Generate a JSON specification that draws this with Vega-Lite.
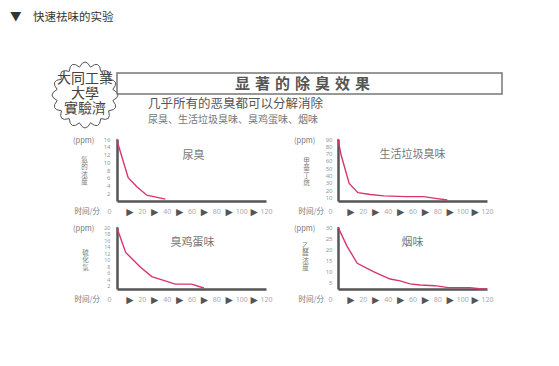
{
  "$schema": "https://vega.github.io/schema/vega-lite/v6.json",
  "background": "white",
  "padding": {"left": 10, "top": 11, "right": 5, "bottom": 5},
  "title": {"text": "▼\u2003快速祛味的实验", "anchor": "start", "dx": -40, "offset": 37, "fontSize": 11.5, "fontWeight": "normal", "color": "#333", "font": "Noto Sans CJK SC"},
  "spacing": 0,
  "bounds": "flush",
  "hconcat": [
    {
      "width": 64, "height": 44,
      "data": {"values": [{"b": "大同工業\n大學\n實驗濟"}]},
      "layer": [
        {"mark": {"type": "point", "shape": "M 0.8435 -0.1678 Q 1.1565 0 0.8435 0.1678 Q 1.0685 0.4426 0.7151 0.4778 Q 0.8178 0.8178 0.4778 0.7151 Q 0.4426 1.0685 0.1678 0.8435 Q 0 1.1565 -0.1678 0.8435 Q -0.4426 1.0685 -0.4778 0.7151 Q -0.8178 0.8178 -0.7151 0.4778 Q -1.0685 0.4426 -0.8435 0.1678 Q -1.1565 0 -0.8435 -0.1678 Q -1.0685 -0.4426 -0.7151 -0.4778 Q -0.8178 -0.8178 -0.4778 -0.7151 Q -0.4426 -1.0685 -0.1678 -0.8435 Q 0 -1.1565 0.1678 -0.8435 Q 0.4426 -1.0685 0.4778 -0.7151 Q 0.8178 -0.8178 0.7151 -0.4778 Q 1.0685 -0.4426 0.8435 -0.1678 Z", "size": 4356, "filled": true, "fill": "white", "stroke": "#555", "strokeWidth": 1, "opacity": 1}, "encoding": {}},
        {"mark": {"type": "text", "fontSize": 14, "lineHeight": 15, "lineBreak": "\n", "color": "#444", "baseline": "middle", "dy": -16, "font": "Noto Sans CJK TC"}, "encoding": {"text": {"field": "b"}}}
      ]
    },
    {
      "spacing": 45,
      "bounds": "flush",
      "vconcat": [
        {
          "width": 385, "height": 21,
          "view": {"stroke": "#777", "strokeWidth": 1.5},
          "title": {"text": "几乎所有的恶臭都可以分解消除", "subtitle": "尿臭、生活垃圾臭味、臭鸡蛋味、烟味", "orient": "bottom", "anchor": "start", "dx": 31, "offset": 4, "fontSize": 12.5, "fontWeight": "normal", "color": "#555", "subtitleFontSize": 10, "subtitleColor": "#777", "subtitlePadding": 4, "subtitleFont": "Noto Sans CJK SC"},
          "data": {"values": [{"h": "显\u2004著\u2004的\u2004除\u2004臭\u2004效\u2004果"}]},
          "mark": {"type": "text", "fontSize": 15, "fontWeight": "bold", "color": "#555", "dx": -7, "baseline": "middle"},
          "encoding": {"text": {"field": "h"}}
        },
        {
          "columns": 2,
          "spacing": {"row": 26, "column": 72},
          "bounds": "flush",
          "concat": [
            {
              "width": 149, "height": 62,
              "title": {"text": "(ppm)", "anchor": "start", "frame": "group", "dx": -44, "offset": -8, "fontSize": 7.5, "fontWeight": "normal", "color": "#777"},
              "layer": [
                {
                  "data": {"values": [{"t":0,"v":16},{"t":1,"v":14.5},{"t":9,"v":6},{"t":16,"v":3.7},{"t":24,"v":1.5},{"t":39,"v":0.5}]},
                  "mark": {"type": "line", "color": "#d9346f", "strokeWidth": 1.4},
                  "encoding": {
                    "x": {"field": "t", "type": "quantitative", "scale": {"domain": [0, 120], "nice": false, "zero": false},
                      "axis": {"values": [0,10,20,30,40,50,60,70,80,90,100,110,120], "labelExpr": "datum.value % 20 == 10 ? '►' : datum.label", "labelFontSize": {"condition": {"test": "datum.value % 20 == 10", "value": 12}, "value": 7}, "labelColor": {"condition": {"test": "datum.value % 20 == 10", "value": "#555"}, "value": "#aaa"}, "labelFont": {"condition": {"test": "datum.value % 20 == 10", "value": "Noto Sans CJK SC"}, "value": "Noto Sans"}, "labelOffset": {"condition": {"test": "datum.value == 0", "value": -8}, "value": 0}, "labelBaseline": "middle", "labelPadding": 10, "labelFlush": false, "labelOverlap": false, "labelBound": false, "title": "时间/分", "titleAngle": 0, "titleAlign": "left", "titleBaseline": "middle", "titleX": -43, "titleY": 10}},
                    "y": {"field": "v", "type": "quantitative", "scale": {"domain": [0, 16], "nice": false, "zero": false},
                      "axis": {"values": [2,4,6,8,10,12,14,16], "title": ["氨","的","浓","度"], "titleAngle": 0, "titleAlign": "center", "titleBaseline": "middle", "titleX": -33, "titleY": 20, "titleLineHeight": 7.5, "titleFontSize": 6.5, "labelPadding": 7, "labelOverlap": false}}
                  }
                },
                {
                  "data": {"values": [{"label": "尿臭"}]},
                  "mark": {"type": "text", "fontSize": 11, "color": "#777", "baseline": "middle", "dx": 2, "dy": -14},
                  "encoding": {"text": {"field": "label"}}
                }
              ]
            },
            {
              "width": 149, "height": 62,
              "title": {"text": "(ppm)", "anchor": "start", "frame": "group", "dx": -44, "offset": -8, "fontSize": 7.5, "fontWeight": "normal", "color": "#777"},
              "layer": [
                {
                  "data": {"values": [{"t":0,"v":90},{"t":2.5,"v":68},{"t":9,"v":29},{"t":16,"v":16.5},{"t":26,"v":14},{"t":37,"v":12},{"t":55,"v":11},{"t":69,"v":11},{"t":77,"v":9},{"t":88,"v":6.4}]},
                  "mark": {"type": "line", "color": "#d9346f", "strokeWidth": 1.4},
                  "encoding": {
                    "x": {"field": "t", "type": "quantitative", "scale": {"domain": [0, 120], "nice": false, "zero": false},
                      "axis": {"values": [0,10,20,30,40,50,60,70,80,90,100,110,120], "labelExpr": "datum.value % 20 == 10 ? '►' : datum.label", "labelFontSize": {"condition": {"test": "datum.value % 20 == 10", "value": 12}, "value": 7}, "labelColor": {"condition": {"test": "datum.value % 20 == 10", "value": "#555"}, "value": "#aaa"}, "labelFont": {"condition": {"test": "datum.value % 20 == 10", "value": "Noto Sans CJK SC"}, "value": "Noto Sans"}, "labelOffset": {"condition": {"test": "datum.value == 0", "value": -8}, "value": 0}, "labelBaseline": "middle", "labelPadding": 10, "labelFlush": false, "labelOverlap": false, "labelBound": false, "title": "时间/分", "titleAngle": 0, "titleAlign": "left", "titleBaseline": "middle", "titleX": -40, "titleY": 10}},
                    "y": {"field": "v", "type": "quantitative", "scale": {"domain": [5, 90], "nice": false, "zero": false},
                      "axis": {"values": [10,20,30,40,50,60,70,80,90], "title": ["甲","基","丁","烷"], "titleAngle": 0, "titleAlign": "center", "titleBaseline": "middle", "titleX": -32, "titleY": 21, "titleLineHeight": 7.5, "titleFontSize": 6.5, "labelPadding": 6, "labelOverlap": false}}
                  }
                },
                {
                  "data": {"values": [{"label": "生活垃圾臭味"}]},
                  "mark": {"type": "text", "fontSize": 11, "color": "#777", "baseline": "middle", "dx": 0, "dy": -15},
                  "encoding": {"text": {"field": "label"}}
                }
              ]
            },
            {
              "width": 149, "height": 62,
              "title": {"text": "(ppm)", "anchor": "start", "frame": "group", "dx": -44, "offset": -8, "fontSize": 7.5, "fontWeight": "normal", "color": "#777"},
              "layer": [
                {
                  "data": {"values": [{"t":0,"v":20},{"t":1,"v":18.6},{"t":7,"v":12.2},{"t":18.5,"v":7.8},{"t":28,"v":4.8},{"t":47,"v":2.5},{"t":60,"v":2.5},{"t":70,"v":1.3}]},
                  "mark": {"type": "line", "color": "#d9346f", "strokeWidth": 1.4},
                  "encoding": {
                    "x": {"field": "t", "type": "quantitative", "scale": {"domain": [0, 120], "nice": false, "zero": false},
                      "axis": {"values": [0,10,20,30,40,50,60,70,80,90,100,110,120], "labelExpr": "datum.value % 20 == 10 ? '►' : datum.label", "labelFontSize": {"condition": {"test": "datum.value % 20 == 10", "value": 12}, "value": 7}, "labelColor": {"condition": {"test": "datum.value % 20 == 10", "value": "#555"}, "value": "#aaa"}, "labelFont": {"condition": {"test": "datum.value % 20 == 10", "value": "Noto Sans CJK SC"}, "value": "Noto Sans"}, "labelOffset": {"condition": {"test": "datum.value == 0", "value": -8}, "value": 0}, "labelBaseline": "middle", "labelPadding": 10, "labelFlush": false, "labelOverlap": false, "labelBound": false, "title": "时间/分", "titleAngle": 0, "titleAlign": "left", "titleBaseline": "middle", "titleX": -43, "titleY": 10}},
                    "y": {"field": "v", "type": "quantitative", "scale": {"domain": [1, 20], "nice": false, "zero": false},
                      "axis": {"values": [2,4,6,8,10,12,14,16,18,20], "title": ["硫","化","氢"], "titleAngle": 0, "titleAlign": "center", "titleBaseline": "middle", "titleX": -32, "titleY": 25, "titleLineHeight": 7.5, "titleFontSize": 6.5, "labelPadding": 7, "labelOverlap": false, "labelFontSize": 5.5}}
                  }
                },
                {
                  "data": {"values": [{"label": "臭鸡蛋味"}]},
                  "mark": {"type": "text", "fontSize": 11, "color": "#777", "baseline": "middle", "dx": 1, "dy": -15},
                  "encoding": {"text": {"field": "label"}}
                }
              ]
            },
            {
              "width": 149, "height": 62,
              "title": {"text": "(ppm)", "anchor": "start", "frame": "group", "dx": -44, "offset": -8, "fontSize": 7.5, "fontWeight": "normal", "color": "#777"},
              "layer": [
                {
                  "data": {"values": [{"t":0,"v":30},{"t":7,"v":21.6},{"t":15.5,"v":13.6},{"t":28.5,"v":9.8},{"t":42,"v":6.5},{"t":50,"v":5.7},{"t":58,"v":4.3},{"t":66,"v":3.8},{"t":78,"v":3.5},{"t":89,"v":2.6},{"t":106,"v":2.6},{"t":114,"v":2.1},{"t":120,"v":2}]},
                  "mark": {"type": "line", "color": "#d9346f", "strokeWidth": 1.4},
                  "encoding": {
                    "x": {"field": "t", "type": "quantitative", "scale": {"domain": [0, 120], "nice": false, "zero": false},
                      "axis": {"values": [0,10,20,30,40,50,60,70,80,90,100,110,120], "labelExpr": "datum.value % 20 == 10 ? '►' : datum.label", "labelFontSize": {"condition": {"test": "datum.value % 20 == 10", "value": 12}, "value": 7}, "labelColor": {"condition": {"test": "datum.value % 20 == 10", "value": "#555"}, "value": "#aaa"}, "labelFont": {"condition": {"test": "datum.value % 20 == 10", "value": "Noto Sans CJK SC"}, "value": "Noto Sans"}, "labelOffset": {"condition": {"test": "datum.value == 0", "value": -8}, "value": 0}, "labelBaseline": "middle", "labelPadding": 10, "labelFlush": false, "labelOverlap": false, "labelBound": false, "title": "时间/分", "titleAngle": 0, "titleAlign": "left", "titleBaseline": "middle", "titleX": -40, "titleY": 10}},
                    "y": {"field": "v", "type": "quantitative", "scale": {"domain": [2, 30], "nice": false, "zero": false},
                      "axis": {"values": [5,10,15,20,25,30], "title": ["乙","醛","浓","度"], "titleAngle": 0, "titleAlign": "center", "titleBaseline": "middle", "titleX": -33, "titleY": 18, "titleLineHeight": 7.5, "titleFontSize": 6.5, "labelPadding": 6, "labelOverlap": false}}
                  }
                },
                {
                  "data": {"values": [{"label": "烟味"}]},
                  "mark": {"type": "text", "fontSize": 11, "color": "#777", "baseline": "middle", "dx": 0, "dy": -15},
                  "encoding": {"text": {"field": "label"}}
                }
              ]
            }
          ]
        }
      ]
    }
  ],
  "config": {
    "view": {"stroke": null},
    "font": "Noto Sans CJK SC",
    "axis": {"grid": false, "ticks": false, "tickSize": 0, "domainColor": "#555", "domainWidth": 2.5, "labelFontSize": 6, "labelColor": "#999", "labelFont": "Noto Sans", "labelOverlap": false, "titleFontWeight": "normal", "titleColor": "#777", "titleFontSize": 7.5, "titleFont": "Noto Sans CJK SC"}
  }
}
